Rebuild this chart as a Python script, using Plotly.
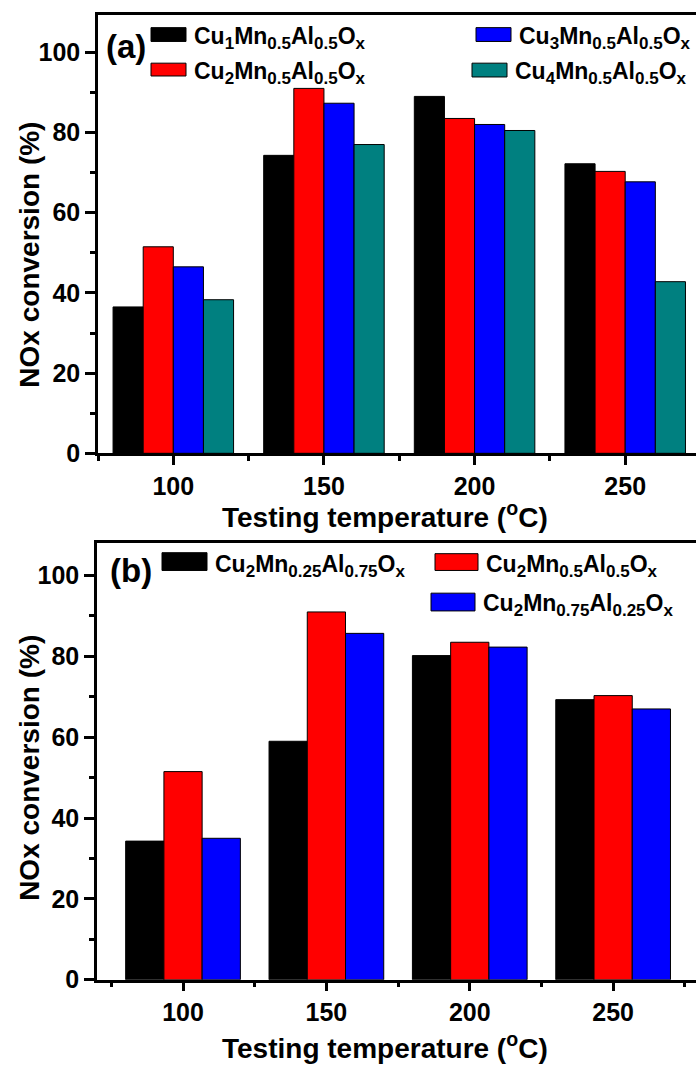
import plotly.graph_objects as go

W, H = 696, 1073

temps = [100, 150, 200, 250]

# Panel (a)
names_a = ["Cu<sub>1</sub>Mn<sub>0.5</sub>Al<sub>0.5</sub>O<sub>x</sub>",
           "Cu<sub>2</sub>Mn<sub>0.5</sub>Al<sub>0.5</sub>O<sub>x</sub>",
           "Cu<sub>3</sub>Mn<sub>0.5</sub>Al<sub>0.5</sub>O<sub>x</sub>",
           "Cu<sub>4</sub>Mn<sub>0.5</sub>Al<sub>0.5</sub>O<sub>x</sub>"]
cu1 = [36.5, 74.3, 89.0, 72.2]
cu2 = [51.5, 91.0, 83.5, 70.3]
cu3 = [46.5, 87.3, 82.0, 67.7]
cu4 = [38.3, 77.0, 80.5, 42.8]
colors_a = ["#000000", "#FF0000", "#0000FF", "#008080"]

# Panel (b)
names_b = ["Cu<sub>2</sub>Mn<sub>0.25</sub>Al<sub>0.75</sub>O<sub>x</sub>",
           "Cu<sub>2</sub>Mn<sub>0.5</sub>Al<sub>0.5</sub>O<sub>x</sub>",
           "Cu<sub>2</sub>Mn<sub>0.75</sub>Al<sub>0.25</sub>O<sub>x</sub>"]
mn025 = [34.3, 59.0, 80.2, 69.3]
mn05 = [51.5, 91.0, 83.5, 70.3]
mn075 = [35.0, 85.7, 82.3, 67.0]
colors_b = ["#000000", "#FF0000", "#0000FF"]

x_title = "Testing temperature (<sup>o</sup>C)"
y_title = "NOx conversion (%)"

FONT = "Liberation Sans, Arial, sans-serif"


def px(x):
    return x / W


def py(y):
    return 1 - y / H


def big_sub(s):
    return s.replace("<sub>", "<sub><span style='font-size:17px'>").replace("</sub>", "</span></sub>")


fig = go.Figure()

for name, vals, col in zip(names_a, [cu1, cu2, cu3, cu4], colors_a):
    fig.add_trace(go.Bar(x=temps, y=vals, name=name, marker=dict(color=col, line=dict(color="black", width=1)),
                         xaxis="x", yaxis="y", showlegend=False))
for name, vals, col in zip(names_b, [mn025, mn05, mn075], colors_b):
    fig.add_trace(go.Bar(x=temps, y=vals, name=name, marker=dict(color=col, line=dict(color="black", width=1)),
                         xaxis="x2", yaxis="y2", showlegend=False))

tickfont = dict(family=FONT, size=25, color="black", weight="bold")
common_x = dict(showline=True, linecolor="black", linewidth=2.5, mirror=True, ticks="outside",
                ticklen=9, tickwidth=2.5, tickcolor="black", tickmode="linear", tick0=100, dtick=50,
                tickfont=tickfont, showgrid=False, zeroline=False,
                minor=dict(ticks="outside", ticklen=5, tickwidth=2.5, tickcolor="black", dtick=25, tick0=75, showgrid=False))
common_y = dict(showline=True, linecolor="black", linewidth=2.5, mirror=False, ticks="outside",
                ticklen=10, tickwidth=2.5, tickcolor="black", tickmode="linear", tick0=0, dtick=20,
                tickfont=tickfont, showgrid=False, zeroline=False,
                minor=dict(ticks="outside", ticklen=5, tickwidth=2.5, tickcolor="black", dtick=10, tick0=0, showgrid=False))

fig.update_layout(
    width=W, height=H,
    margin=dict(l=0, r=0, t=0, b=0),
    paper_bgcolor="white", plot_bgcolor="white",
    barmode="group", bargap=0.2, bargroupgap=0,
    font=dict(family=FONT, color="black"),
    xaxis=dict(domain=[px(98), 1], range=[75, 273.5], anchor="y", **common_x),
    yaxis=dict(domain=[py(459.3), py(15)], range=[0, 109.35], anchor="x", **common_y),
    xaxis2=dict(domain=[px(97), 1], range=[70, 278.9], anchor="y2", **common_x),
    yaxis2=dict(domain=[py(992.7), py(550)], range=[0, 108.1], anchor="x2", **common_y),
)

ann = []
shapes = []
tfont = dict(family=FONT, size=28, color="black", weight="bold")
# axis titles
ann.append(dict(text=x_title, x=px(385), y=py(522), xref="paper", yref="paper", showarrow=False,
                xanchor="center", yanchor="middle", font=tfont))
ann.append(dict(text=x_title, x=px(385), y=py(1060), xref="paper", yref="paper", showarrow=False,
                xanchor="center", yanchor="middle", font=tfont))
ann.append(dict(text=y_title, x=px(30), y=py(258), xref="paper", yref="paper", showarrow=False,
                xanchor="center", yanchor="middle", textangle=-90, font=tfont))
ann.append(dict(text=y_title, x=px(30), y=py(778), xref="paper", yref="paper", showarrow=False,
                xanchor="center", yanchor="middle", textangle=-90, font=tfont))
# panel labels
lfont = dict(family=FONT, size=33, color="black", weight="bold")
ann.append(dict(text="(a)", x=px(126), y=py(47), xref="paper", yref="paper", showarrow=False,
                xanchor="center", yanchor="middle", font=lfont))
ann.append(dict(text="(b)", x=px(131), y=py(578), xref="paper", yref="paper", showarrow=False,
                xanchor="center", yanchor="middle", font=lfont))

legfont = dict(family=FONT, size=23, color="black", weight="bold")
# legend (a): (swatch x0, x1, y0, y1, text x, text y)
leg_a = [(151, 186, 28, 42, 192, 38), (151, 186, 64, 77, 192, 74),
         (476, 511, 28, 42, 517, 38), (472, 507, 64, 78, 513, 74)]
for (x0, x1, y0, y1, tx, ty), name, col in zip(leg_a, names_a, colors_a):
    shapes.append(dict(type="rect", xref="paper", yref="paper", x0=px(x0), x1=px(x1), y0=py(y1), y1=py(y0),
                       fillcolor=col, line=dict(color="black", width=1)))
    ann.append(dict(text=big_sub(name), x=px(tx), y=py(ty), xref="paper", yref="paper", showarrow=False,
                    xanchor="left", yanchor="middle", font=legfont))
leg_b = [(162, 207, 560, 578, 213, 573), (435, 478, 561, 578, 484, 573), (431, 475, 601, 619, 481, 613)]
for (x0, x1, y0, y1, tx, ty), name, col in zip(leg_b, names_b, colors_b):
    shapes.append(dict(type="rect", xref="paper", yref="paper", x0=px(x0), x1=px(x1), y0=py(y1), y1=py(y0),
                       fillcolor=col, line=dict(color="black", width=1)))
    ann.append(dict(text=big_sub(name), x=px(tx), y=py(ty), xref="paper", yref="paper", showarrow=False,
                    xanchor="left", yanchor="middle", font=legfont))

fig.update_layout(annotations=ann, shapes=shapes)
fig.write_html("out.html")
